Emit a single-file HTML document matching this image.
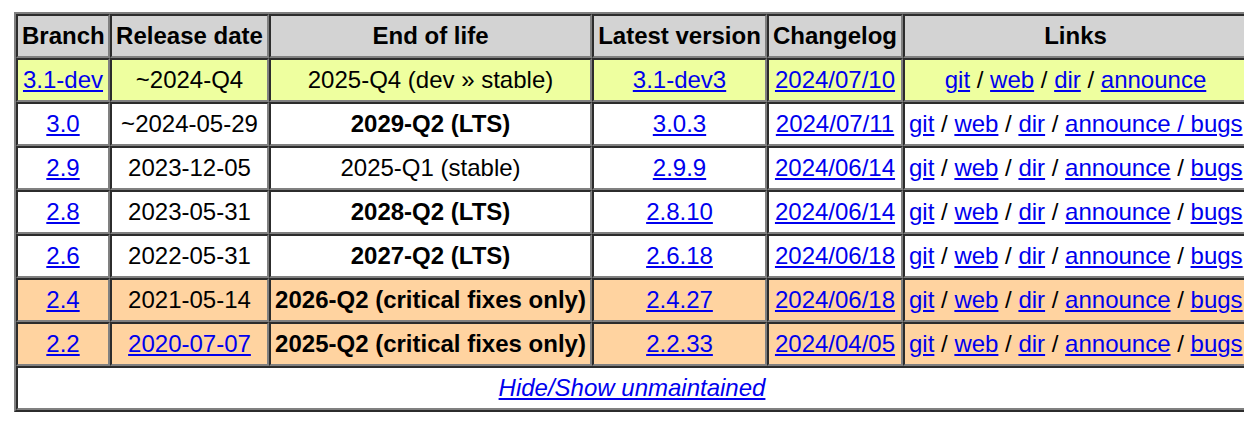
<!DOCTYPE html>
<html><head><meta charset="utf-8">
<style>
html,body{margin:0;padding:0;background:#fff;}
body{font-family:"Liberation Sans",sans-serif;font-size:24px;color:#000;width:1244px;height:422px;overflow:hidden;position:relative;}
table{position:absolute;left:14px;top:12px;border:2px outset #808080;border-spacing:0;table-layout:fixed;width:1236px;}
td,th{border:2px inset #808080;padding:5px 4px;text-align:center;white-space:nowrap;line-height:28px;overflow:hidden;}
th{background:#d3d3d3;font-weight:bold;padding:6px 4px;}
td{padding:6px 4px;}
a{color:#0000ee;}
tr.dev td{background:#eeff9f;}
tr.crit td{background:#ffd3a0;}
b{font-weight:bold;}
td.l{text-align:left;}
</style></head><body>
<table>
<colgroup><col style="width:94px"><col style="width:159px"><col style="width:323px"><col style="width:175px"><col style="width:136px"><col></colgroup>
<tr><th>Branch</th><th>Release date</th><th>End of life</th><th>Latest version</th><th>Changelog</th><th>Links</th></tr>
<tr class="dev"><td><a href="#">3.1-dev</a></td><td>~2024-Q4</td><td>2025-Q4 (dev » stable)</td><td><a href="#">3.1-dev3</a></td><td><a href="#">2024/07/10</a></td><td><a href="#">git</a> / <a href="#">web</a> / <a href="#">dir</a> / <a href="#">announce</a></td></tr>
<tr><td><a href="#">3.0</a></td><td>~2024-05-29</td><td><b>2029-Q2 (LTS)</b></td><td><a href="#">3.0.3</a></td><td><a href="#">2024/07/11</a></td><td class="l"><a href="#">git</a> / <a href="#">web</a> / <a href="#">dir</a> / <a href="#">announce / bugs</a></td></tr>
<tr><td><a href="#">2.9</a></td><td>2023-12-05</td><td>2025-Q1 (stable)</td><td><a href="#">2.9.9</a></td><td><a href="#">2024/06/14</a></td><td class="l"><a href="#">git</a> / <a href="#">web</a> / <a href="#">dir</a> / <a href="#">announce</a> / <a href="#">bugs</a></td></tr>
<tr><td><a href="#">2.8</a></td><td>2023-05-31</td><td><b>2028-Q2 (LTS)</b></td><td><a href="#">2.8.10</a></td><td><a href="#">2024/06/14</a></td><td class="l"><a href="#">git</a> / <a href="#">web</a> / <a href="#">dir</a> / <a href="#">announce</a> / <a href="#">bugs</a></td></tr>
<tr><td><a href="#">2.6</a></td><td>2022-05-31</td><td><b>2027-Q2 (LTS)</b></td><td><a href="#">2.6.18</a></td><td><a href="#">2024/06/18</a></td><td class="l"><a href="#">git</a> / <a href="#">web</a> / <a href="#">dir</a> / <a href="#">announce</a> / <a href="#">bugs</a></td></tr>
<tr class="crit"><td><a href="#">2.4</a></td><td>2021-05-14</td><td><b>2026-Q2 (critical fixes only)</b></td><td><a href="#">2.4.27</a></td><td><a href="#">2024/06/18</a></td><td class="l"><a href="#">git</a> / <a href="#">web</a> / <a href="#">dir</a> / <a href="#">announce</a> / <a href="#">bugs</a></td></tr>
<tr class="crit"><td><a href="#">2.2</a></td><td><a href="#">2020-07-07</a></td><td><b>2025-Q2 (critical fixes only)</b></td><td><a href="#">2.2.33</a></td><td><a href="#">2024/04/05</a></td><td class="l"><a href="#">git</a> / <a href="#">web</a> / <a href="#">dir</a> / <a href="#">announce</a> / <a href="#">bugs</a></td></tr>
<tr><td colspan="6"><i><a href="#">Hide/Show unmaintained</a></i></td></tr>
</table>
</body></html>
